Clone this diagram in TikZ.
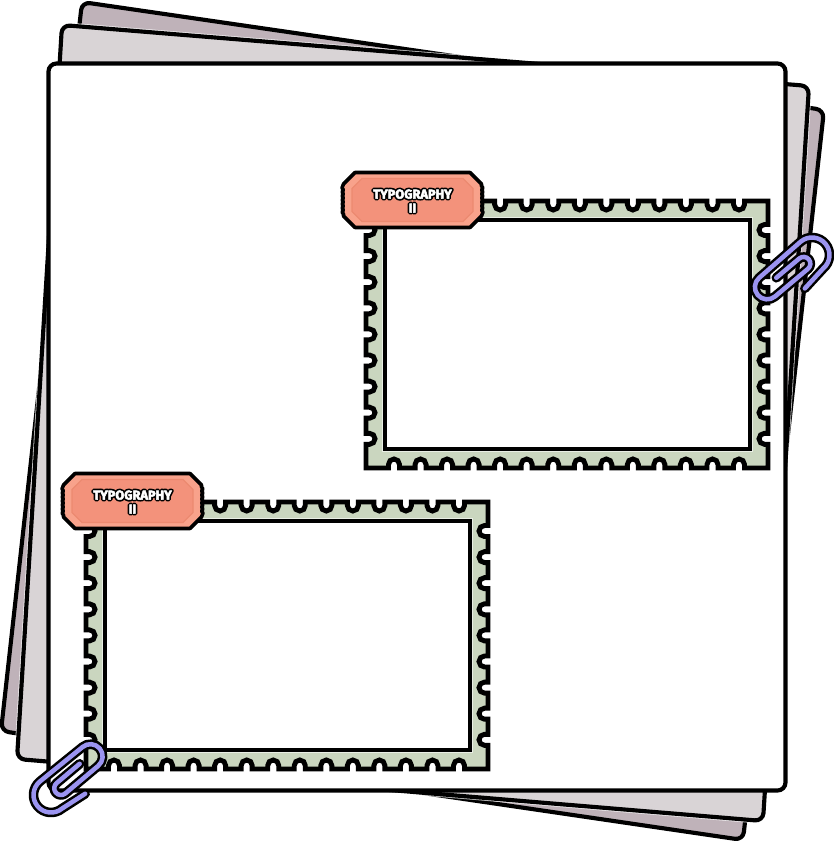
\documentclass[tikz,border=0pt]{standalone}
\usepackage{xcolor}
\usepackage{fontspec}
\newfontfamily\tagfont{Fira Sans}[BoldFeatures={FakeBold=4}]
\newfontfamily\taginkfont{Fira Sans}[BoldFeatures={FakeBold=30}]

\definecolor{sheetdark}{HTML}{BFB2B9}
\definecolor{sheetlight}{HTML}{D9D4D6}
\definecolor{stampgreen}{HTML}{CAD6BF}
\definecolor{tagouter}{HTML}{F8A28B}
\definecolor{tagfill}{HTML}{F3927B}
\definecolor{tagrim}{HTML}{EC8A70}
\definecolor{clipviolet}{HTML}{9B94F0}

\newcommand{\tagword}[1]{\leavevmode\pgfsetroundjoin\rlap{\taginkfont\bfseries\color{black}#1}{\tagfont\bfseries\color{white}#1}}

\tikzset{
  inkline/.style={draw=black, line width=3.1pt, preaction={draw=white, draw opacity=0.75, line width=4.3pt}},
  stampline/.style={draw=black, line width=3.7pt, line join=miter, preaction={draw=white, draw opacity=0.6, line width=4.7pt}},
  clipband/.style={draw=black, line width=1.9pt, double=clipviolet, double distance=3.4pt, line cap=round, line join=round},
  stampcard/.pic={
    % perforated outer edge
    \draw[stampline, fill=stampgreen] (366,201)
      \foreach \k in {0,...,13} { -- ({394+26.54*\k-5.5},201) -- ({394+26.54*\k-5.5},204.5) arc (180:0:5.5) -- ({394+26.54*\k+5.5},201) }
      -- (768,201)
      \foreach \k in {0,...,8} { -- (768,{230+26.1*\k-5.5}) -- (764.5,{230+26.1*\k-5.5}) arc (270:90:5.5) -- (768,{230+26.1*\k+5.5}) }
      -- (768,468)
      \foreach \k in {13,12,...,0} { -- ({394+26.54*\k+5.5},468) -- ({394+26.54*\k+5.5},464.5) arc (0:-180:5.5) -- ({394+26.54*\k-5.5},468) }
      -- (366,468)
      \foreach \k in {8,7,...,0} { -- (366,{230+26.1*\k+5.5}) -- (369.5,{230+26.1*\k+5.5}) arc (90:-90:5.5) -- (366,{230+26.1*\k-5.5}) }
      -- cycle;
    % window
    \draw[stampline, fill=white] (385,220) rectangle (750,449);
    % ticket
    \draw[draw=black, line width=2.7pt, fill=tagouter, line join=round] (355,172.5) -- (470,172.5) -- (481.5,184)
      \foreach \k in {0,...,6} { -- (481.5,{186+4*\k}) -- (483,{188+4*\k}) }
      -- (481.5,216) -- (470,227.5) -- (355,227.5) -- (343.5,216)
      \foreach \k in {0,...,6} { -- (343.5,{214-4*\k}) -- (342,{212-4*\k}) }
      -- (343.5,184) -- cycle;
    \draw[draw=tagrim, line width=0.9pt, fill=tagfill] (362,178.5) -- (463,178.5) -- (473,188.5) -- (473,211.5) -- (463,221.5) -- (362,221.5) -- (352,211.5) -- (352,188.5) -- cycle;
    \node[align=center, font=\fontsize{9.6}{10.5}\selectfont, inner sep=0pt] (-label) at (412.5,201) {\tagword{TYPOGRAPHY}\\\tagword{II}};
  },
  wirepath/.pic={
    \draw[clipband] (27,21) -- (0,17.5) arc (90:270:17.5) -- (55,-16.5) arc (270:450:12.25) -- (12,8) arc (90:270:6.75) -- (42,-5.5);
  }
}

\begin{document}
\begin{tikzpicture}[x=0.75pt, y=-0.75pt]
\useasboundingbox[fill=white] (0,0) rectangle (833,843);

% Back sheets
\draw[inkline, fill=sheetdark, rounded corners=6pt] (82,2) -- (824,110) -- (743,840) -- (1,731) -- cycle;
\draw[inkline, fill=sheetlight, rounded corners=6pt] (62,25) -- (809,86) -- (763,821) -- (17,759) -- cycle;

% Front sheet
\draw[draw=black, line width=3.1pt, fill=white, rounded corners=6pt] (48.5,63.5) rectangle (785.5,790.5);

% Stamps with their tickets
\pic (upper) at (0,0) {stampcard};
\pic (lower) at (-280,301) {stampcard};

% Paper clips
\pic[rotate=40, xscale=-1] (rightclip) at (812,255) {wirepath};
\pic[rotate=40] (leftclip) at (51,795) {wirepath};

\end{tikzpicture}
\end{document}
